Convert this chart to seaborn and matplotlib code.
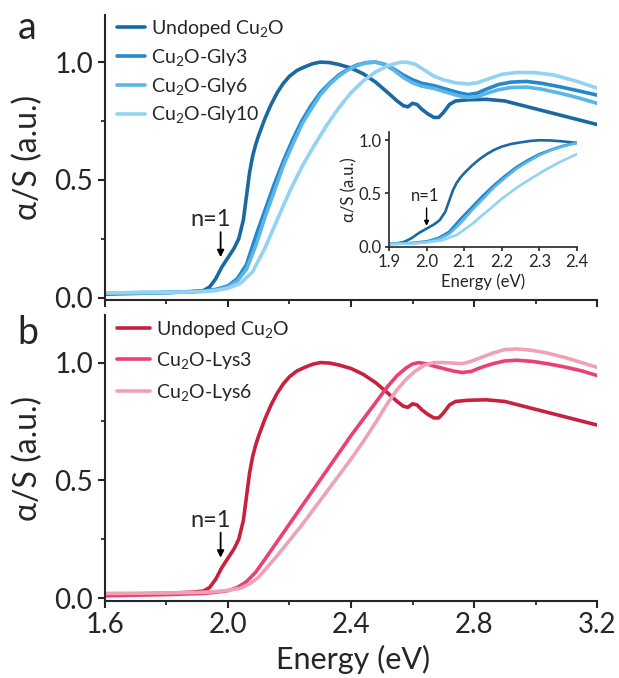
import numpy as np
import pandas as pd
import matplotlib
matplotlib.use("Agg")
import matplotlib.pyplot as plt
from matplotlib.ticker import MultipleLocator, FormatStrFormatter
import seaborn as sns

# undoped Cu2O (same curve in both panels)
undoped_E = [1.60, 1.70, 1.80, 1.88, 1.92, 1.94, 1.96, 1.98, 2.00, 2.02, 2.035, 2.05, 2.06, 2.07,
             2.08, 2.09, 2.10, 2.12, 2.14, 2.16, 2.18, 2.20, 2.225, 2.25, 2.275, 2.30, 2.33, 2.36,
             2.40, 2.44, 2.48, 2.52, 2.55, 2.57, 2.585, 2.60, 2.615, 2.63, 2.65, 2.67, 2.685, 2.70,
             2.72, 2.74, 2.78, 2.84, 2.90, 2.96, 3.02, 3.08, 3.14, 3.20]
undoped_v = [0.015, 0.018, 0.021, 0.025, 0.03, 0.045, 0.08, 0.13, 0.17, 0.21, 0.25, 0.33, 0.43, 0.53,
             0.60, 0.65, 0.69, 0.76, 0.82, 0.87, 0.91, 0.94, 0.965, 0.98, 0.993, 1.0, 0.998, 0.99,
             0.975, 0.95, 0.915, 0.87, 0.835, 0.815, 0.81, 0.825, 0.82, 0.80, 0.78, 0.765, 0.765, 0.785,
             0.82, 0.835, 0.84, 0.842, 0.835, 0.815, 0.795, 0.775, 0.755, 0.735]

# glycine doped
gly_E = [1.60, 1.80, 1.92, 1.96, 2.00, 2.03, 2.06, 2.09, 2.12, 2.15, 2.18, 2.21, 2.24, 2.27, 2.30,
         2.33, 2.36, 2.39, 2.42, 2.45, 2.48, 2.51, 2.54, 2.57, 2.60, 2.63, 2.67, 2.71, 2.75, 2.78,
         2.81, 2.84, 2.88, 2.92, 2.97, 3.02, 3.08, 3.14, 3.20]
gly3_v = [0.02, 0.022, 0.028, 0.035, 0.05, 0.08, 0.14, 0.26, 0.37, 0.48, 0.58, 0.67, 0.75, 0.815, 0.87,
          0.91, 0.945, 0.97, 0.988, 0.998, 1.0, 0.99, 0.97, 0.945, 0.925, 0.91, 0.90, 0.885, 0.87, 0.862,
          0.868, 0.885, 0.905, 0.915, 0.918, 0.91, 0.895, 0.878, 0.86]
gly6_v = [0.02, 0.022, 0.027, 0.033, 0.045, 0.07, 0.12, 0.22, 0.34, 0.45, 0.56, 0.65, 0.735, 0.80, 0.86,
          0.905, 0.94, 0.967, 0.985, 0.997, 1.0, 0.99, 0.965, 0.935, 0.912, 0.898, 0.888, 0.872, 0.857, 0.85,
          0.853, 0.867, 0.883, 0.892, 0.894, 0.885, 0.868, 0.848, 0.825]
gly10_E = [1.60, 1.80, 1.92, 1.96, 2.00, 2.04, 2.08, 2.12, 2.16, 2.20, 2.24, 2.28, 2.32, 2.36, 2.40,
           2.44, 2.48, 2.52, 2.56, 2.58, 2.61, 2.64, 2.67, 2.70, 2.74, 2.78, 2.81, 2.85, 2.89, 2.94,
           3.00, 3.06, 3.13, 3.20]
gly10_v = [0.02, 0.022, 0.026, 0.03, 0.04, 0.06, 0.11, 0.21, 0.33, 0.45, 0.555, 0.645, 0.73, 0.805, 0.87,
           0.92, 0.958, 0.985, 0.999, 1.0, 0.99, 0.965, 0.94, 0.925, 0.912, 0.907, 0.912, 0.93, 0.948, 0.956,
           0.955, 0.945, 0.92, 0.89]

# lysine doped
lys3_E = [1.60, 1.80, 1.92, 1.96, 2.00, 2.03, 2.06, 2.09, 2.12, 2.16, 2.20, 2.24, 2.28, 2.32, 2.36,
          2.40, 2.44, 2.48, 2.52, 2.55, 2.58, 2.60, 2.62, 2.645, 2.67, 2.70, 2.73, 2.76, 2.79, 2.82,
          2.86, 2.90, 2.94, 2.99, 3.04, 3.10, 3.15, 3.20]
lys3_v = [0.01, 0.015, 0.02, 0.025, 0.032, 0.045, 0.07, 0.11, 0.165, 0.24, 0.315, 0.39, 0.465, 0.54, 0.615,
          0.69, 0.76, 0.83, 0.90, 0.945, 0.978, 0.994, 1.0, 0.995, 0.985, 0.975, 0.965, 0.958, 0.962, 0.978,
          0.995, 1.007, 1.01, 1.005, 0.995, 0.98, 0.965, 0.945]
lys6_E = [1.60, 1.80, 1.92, 1.96, 2.00, 2.04, 2.07, 2.10, 2.13, 2.16, 2.20, 2.24, 2.28, 2.32, 2.36,
          2.40, 2.44, 2.48, 2.52, 2.55, 2.58, 2.61, 2.64, 2.67, 2.70, 2.73, 2.76, 2.79, 2.82, 2.86,
          2.90, 2.94, 2.99, 3.04, 3.10, 3.15, 3.20]
lys6_v = [0.02, 0.022, 0.025, 0.028, 0.033, 0.042, 0.06, 0.09, 0.135, 0.18, 0.245, 0.31, 0.38, 0.45, 0.52,
          0.59, 0.665, 0.745, 0.83, 0.885, 0.93, 0.965, 0.99, 1.0, 1.0, 0.998, 0.995, 1.005, 1.02, 1.04,
          1.055, 1.058, 1.052, 1.04, 1.02, 1.0, 0.98]

labels_a = ["Undoped Cu$_2$O", "Cu$_2$O-Gly3", "Cu$_2$O-Gly6", "Cu$_2$O-Gly10"]
labels_b = ["Undoped Cu$_2$O", "Cu$_2$O-Lys3", "Cu$_2$O-Lys6"]
colors_a = ["#1a6aa0", "#2388cc", "#5bb5e6", "#92d2f2"]
colors_b = ["#c8213f", "#ec3f75", "#eea3b5"]

sns.set_style("ticks")
plt.rcParams['font.family'] = ['Lato', 'DejaVu Sans']
plt.rcParams['mathtext.default'] = 'regular'

fig = plt.figure(figsize=(6.19, 6.78), dpi=100)
ax_a = fig.add_axes([0.1696, 0.5575, 0.7949, 0.4204])
ax_b = fig.add_axes([0.1696, 0.1143, 0.7949, 0.4204])
ax_in = fig.add_axes([0.6284, 0.6361, 0.3037, 0.1696])

series_a = [(undoped_E, undoped_v), (gly_E, gly3_v), (gly_E, gly6_v), (gly10_E, gly10_v)]
series_b = [(undoped_E, undoped_v), (lys3_E, lys3_v), (lys6_E, lys6_v)]

for (e, v), lab, c in zip(series_a, labels_a, colors_a):
    sns.lineplot(x=e, y=v, ax=ax_a, color=c, lw=2.6, label=lab)
    sns.lineplot(x=e, y=v, ax=ax_in, color=c, lw=1.9, legend=False)
for (e, v), lab, c in zip(series_b, labels_b, colors_b):
    sns.lineplot(x=e, y=v, ax=ax_b, color=c, lw=2.6, label=lab)

for ax in [ax_a, ax_b]:
    ax.set_xlim(1.6, 3.2)
    ax.set_ylim(-0.01, 1.2)
    ax.xaxis.set_major_locator(MultipleLocator(0.4))
    ax.xaxis.set_minor_locator(MultipleLocator(0.2))
    ax.yaxis.set_major_locator(MultipleLocator(0.5))
    ax.yaxis.set_minor_locator(MultipleLocator(0.25))
    ax.tick_params(which='major', direction='out', length=5, width=1.5, labelsize=20)
    ax.tick_params(which='minor', direction='out', length=3, width=1.3)
    for s in ['top', 'right']:
        ax.spines[s].set_visible(False)
    for s in ['left', 'bottom']:
        ax.spines[s].set_linewidth(1.5)
    ax.yaxis.set_major_formatter(FormatStrFormatter('%.1f'))
    ax.set_ylabel("α/S (a.u.)", fontsize=23)
    ax.yaxis.set_label_coords(-0.125, 0.5)
    ax.annotate('', xy=(1.976, 0.16), xytext=(1.976, 0.29),
                arrowprops=dict(arrowstyle='-|>', color='black', lw=1.3, mutation_scale=10))
    ax.text(1.943, 0.33, "n=1", fontsize=17, ha='center', va='center')

ax_a.set_xlabel("")
ax_a.tick_params(axis='x', labelbottom=False)
ax_b.xaxis.set_major_formatter(FormatStrFormatter('%.1f'))
ax_b.set_xlabel("Energy (eV)", fontsize=22)
ax_b.xaxis.set_label_coords(0.504, -0.155)

ax_a.legend(loc='upper left', bbox_to_anchor=(0.0, 1.03), frameon=False, fontsize=14,
            handlelength=1.45, handletextpad=0.3, labelspacing=0.4, borderaxespad=0.2)
ax_b.legend(loc='upper left', bbox_to_anchor=(0.0, 1.03), frameon=False, fontsize=14,
            handlelength=1.7, handletextpad=0.3, labelspacing=0.55, borderaxespad=0.2)

# inset
ax_in.set_xlim(1.9, 2.4)
ax_in.set_ylim(0, 1.08)
ax_in.xaxis.set_major_locator(MultipleLocator(0.1))
ax_in.yaxis.set_major_locator(MultipleLocator(0.5))
ax_in.xaxis.set_major_formatter(FormatStrFormatter('%.1f'))
ax_in.yaxis.set_major_formatter(FormatStrFormatter('%.1f'))
ax_in.tick_params(direction='out', length=3, width=1.2, labelsize=12, pad=2)
for s in ['top', 'right']:
    ax_in.spines[s].set_visible(False)
for s in ['left', 'bottom']:
    ax_in.spines[s].set_linewidth(1.2)
ax_in.set_xlabel("Energy (eV)", fontsize=12, labelpad=3)
ax_in.set_ylabel("α/S (a.u.)", fontsize=12, labelpad=1)
ax_in.annotate('', xy=(2.0, 0.17), xytext=(2.0, 0.39),
               arrowprops=dict(arrowstyle='-|>', color='black', lw=1.0, mutation_scale=7))
ax_in.text(1.996, 0.48, "n=1", fontsize=12, ha='center', va='center')
ax_in.patch.set_alpha(0)

fig.text(27 / 619, 1 - 28 / 678, "a", fontsize=27, ha='center', va='center')
fig.text(28 / 619, 1 - 333 / 678, "b", fontsize=27, ha='center', va='center')

fig.savefig("out.png", dpi=100)
